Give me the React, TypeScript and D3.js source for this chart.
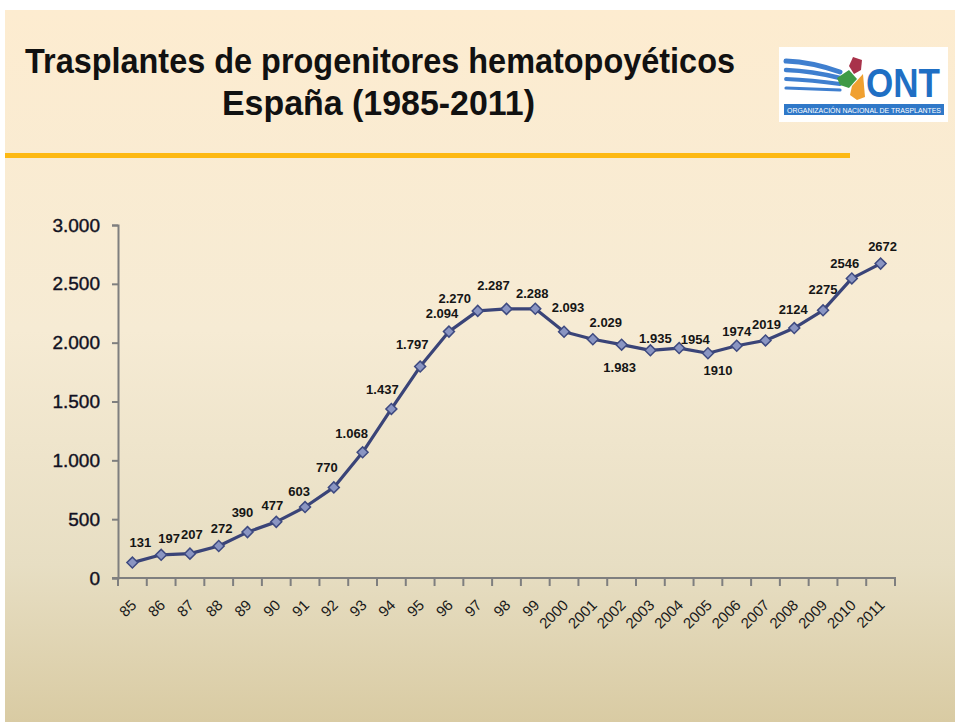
import * as d3 from 'd3';
import { useEffect, useRef } from 'react';

// Years on the x axis
const years = ['85', '86', '87', '88', '89', '90', '91', '92', '93', '94', '95', '96', '97', '98', '99',
  '2000', '2001', '2002', '2003', '2004', '2005', '2006', '2007', '2008', '2009', '2010', '2011'];

// Transplants per year
const transplants = [131, 197, 207, 272, 390, 477, 603, 770, 1068, 1437, 1797, 2094, 2270, 2287, 2288,
  2093, 2029, 1983, 1935, 1954, 1910, 1974, 2019, 2124, 2275, 2546, 2672];

// Data labels as printed on the slide
const pointLabels = ['131', '197', '207', '272', '390', '477', '603', '770', '1.068', '1.437', '1.797', '2.094',
  '2.270', '2.287', '2.288', '2.093', '2.029', '1.983', '1.935', '1954', '1910', '1974', '2019', '2124',
  '2275', '2546', '2672'];

// where each label sits relative to its point (dx, dy)
const labelOffsets = [[8, -20], [8, -16], [2, -19], [3, -18], [-5, -20], [-4, -16], [-6, -16], [-7, -20],
  [-11, -19], [-9, -19], [-8, -22], [-7, -18], [-23, -12], [-13, -23], [-3, -15], [4, -24], [13, -17],
  [-2, 23], [5, -12], [16, -9], [10, 17], [0, -14], [1, -16], [-1, -19], [0, -21], [-7, -15], [2, -17]];

const yTicks = [0, 500, 1000, 1500, 2000, 2500, 3000];

const titleLines = ['Trasplantes de progenitores hematopoyéticos', 'España (1985-2011)'];

const W = 955;
const H = 722;

const App = () => {
  const svgRef = useRef(null);

  useEffect(() => {
    const svg = d3.select(svgRef.current);
    svg.selectAll('*').remove();

    const x = d3.scaleBand().domain(years).range([118, 895]).padding(0);
    const y = d3.scaleLinear().domain([0, 3000]).range([578, 225]);
    const fmt = d3.formatLocale({ decimal: ',', thousands: '.', grouping: [3], currency: ['', ''] }).format(',');

    // background gradient
    const defs = svg.append('defs');
    const grad = defs.append('linearGradient').attr('id', 'bg').attr('x1', 0).attr('y1', 0).attr('x2', 0).attr('y2', 1);
    grad.append('stop').attr('offset', '0%').attr('stop-color', '#fdecd0');
    grad.append('stop').attr('offset', '45%').attr('stop-color', '#f6ebd4');
    grad.append('stop').attr('offset', '78%').attr('stop-color', '#e7dec3');
    grad.append('stop').attr('offset', '100%').attr('stop-color', '#d9cba3');

    svg.append('rect').attr('width', W).attr('height', H).attr('fill', '#ffffff');
    svg.append('rect').attr('x', 5).attr('y', 10).attr('width', W - 5).attr('height', H - 10).attr('fill', 'url(#bg)');

    // title
    svg.append('text')
      .attr('x', 25).attr('y', 73)
      .attr('textLength', 710).attr('lengthAdjust', 'spacingAndGlyphs')
      .attr('font-family', 'Liberation Sans Narrow, Liberation Sans, sans-serif')
      .attr('font-weight', 'bold').attr('font-size', 35).attr('fill', '#111')
      .text(titleLines[0]);
    svg.append('text')
      .attr('x', 222).attr('y', 115)
      .attr('textLength', 313).attr('lengthAdjust', 'spacingAndGlyphs')
      .attr('font-family', 'Liberation Sans Narrow, Liberation Sans, sans-serif')
      .attr('font-weight', 'bold').attr('font-size', 35).attr('fill', '#111')
      .text(titleLines[1]);

    // yellow rule
    svg.append('rect').attr('x', 5).attr('y', 153).attr('width', 845).attr('height', 5).attr('fill', '#fdb913');

    // ONT logo (rough)
    const logo = svg.append('g');
    logo.append('rect').attr('x', 779).attr('y', 47).attr('width', 169).attr('height', 75).attr('fill', '#fff');
    [0, 1, 2, 3].forEach(i => {
      logo.append('path')
        .attr('d', `M${786} ${61 + i * 9} Q ${812} ${62 + i * 9} ${840} ${72 + i * 6}`)
        .attr('fill', 'none').attr('stroke', '#3f7fcf').attr('stroke-width', 5 - i * 0.6)
        .attr('stroke-linecap', 'round');
    });
    logo.append('path').attr('d', 'M853 57 L862 60 L861 70 L854 74 L849 66 Z').attr('fill', '#a8324a');
    logo.append('path').attr('d', 'M837 78 L849 70 L857 79 L849 88 L840 85 Z').attr('fill', '#3f9a45');
    logo.append('path').attr('d', 'M852 86 L863 74 L865 97 L857 100 L850 95 Z').attr('fill', '#f0a030');
    logo.append('text').attr('x', 866).attr('y', 97)
      .attr('textLength', 74).attr('lengthAdjust', 'spacingAndGlyphs')
      .attr('font-family', 'Liberation Sans Narrow, Liberation Sans, sans-serif')
      .attr('font-weight', 'bold').attr('font-size', 40).attr('fill', '#1f6fc4')
      .text('ONT');
    logo.append('rect').attr('x', 784).attr('y', 104).attr('width', 160).attr('height', 11).attr('fill', '#2f78c8');
    logo.append('text').attr('x', 787).attr('y', 112.5)
      .attr('textLength', 154).attr('lengthAdjust', 'spacingAndGlyphs')
      .attr('font-family', 'Liberation Sans Narrow, Liberation Sans, sans-serif')
      .attr('font-size', 7).attr('fill', '#fff')
      .text('ORGANIZACIÓN NACIONAL DE TRASPLANTES');

    // y axis
    const yAxis = svg.append('g')
      .attr('transform', 'translate(118,0)')
      .call(d3.axisLeft(y).tickValues(yTicks).tickSize(6).tickPadding(12).tickFormat(d => fmt(d)));
    yAxis.select('.domain').attr('stroke', '#7f7f7f').attr('stroke-width', 2);
    yAxis.selectAll('.tick line').attr('stroke', '#7f7f7f').attr('stroke-width', 2);
    yAxis.selectAll('.tick text')
      .attr('font-family', 'Liberation Sans, sans-serif').attr('font-size', 19)
      .attr('fill', '#111122').attr('stroke', '#111122').attr('stroke-width', 0.4);

    // x axis line and ticks at band edges
    const xg = svg.append('g');
    xg.append('line').attr('x1', 112).attr('x2', 896).attr('y1', 578).attr('y2', 578)
      .attr('stroke', '#7f7f7f').attr('stroke-width', 2);
    const edges = years.map(d => x(d)).concat([x.range()[1]]);
    xg.selectAll('line.tk').data(edges).enter().append('line')
      .attr('class', 'tk')
      .attr('x1', d => d).attr('x2', d => d).attr('y1', 578).attr('y2', 586)
      .attr('stroke', '#7f7f7f').attr('stroke-width', 2);
    xg.selectAll('text').data(years).enter().append('text')
      .attr('transform', d => `translate(${x(d) + x.bandwidth() / 2 + 5},606) rotate(-45)`)
      .attr('text-anchor', 'end')
      .attr('font-family', 'Liberation Sans, sans-serif').attr('font-size', 15)
      .attr('fill', '#1a1a1a')
      .text(d => d);

    // series line
    const cx = (i) => x(years[i]) + x.bandwidth() / 2;
    const line = d3.line().x((d, i) => cx(i)).y(d => y(d));
    svg.append('path').datum(transplants)
      .attr('d', line).attr('fill', 'none')
      .attr('stroke', '#3a4478').attr('stroke-width', 3.2).attr('stroke-linejoin', 'round');

    // diamond markers
    const diamond = d3.symbol().type(d3.symbolSquare).size(60);
    svg.selectAll('path.pt').data(transplants).enter().append('path')
      .attr('class', 'pt')
      .attr('d', diamond)
      .attr('transform', (d, i) => `translate(${cx(i)},${y(d)}) rotate(45)`)
      .attr('fill', '#8a95c2').attr('stroke', '#3e4a80').attr('stroke-width', 1.5);

    // data labels
    svg.selectAll('text.lbl').data(transplants).enter().append('text')
      .attr('class', 'lbl')
      .attr('x', (d, i) => cx(i) + labelOffsets[i][0])
      .attr('y', (d, i) => y(d) + labelOffsets[i][1])
      .attr('dy', '0.35em')
      .attr('text-anchor', 'middle')
      .attr('font-family', 'Liberation Sans, sans-serif').attr('font-weight', 'bold')
      .attr('font-size', 13).attr('fill', '#151515')
      .text((d, i) => pointLabels[i]);
  }, []);

  return (
    <svg ref={svgRef} width={W} height={H} style={{ position: 'absolute', left: 0, top: 0 }}></svg>
  );
};

export default App;
